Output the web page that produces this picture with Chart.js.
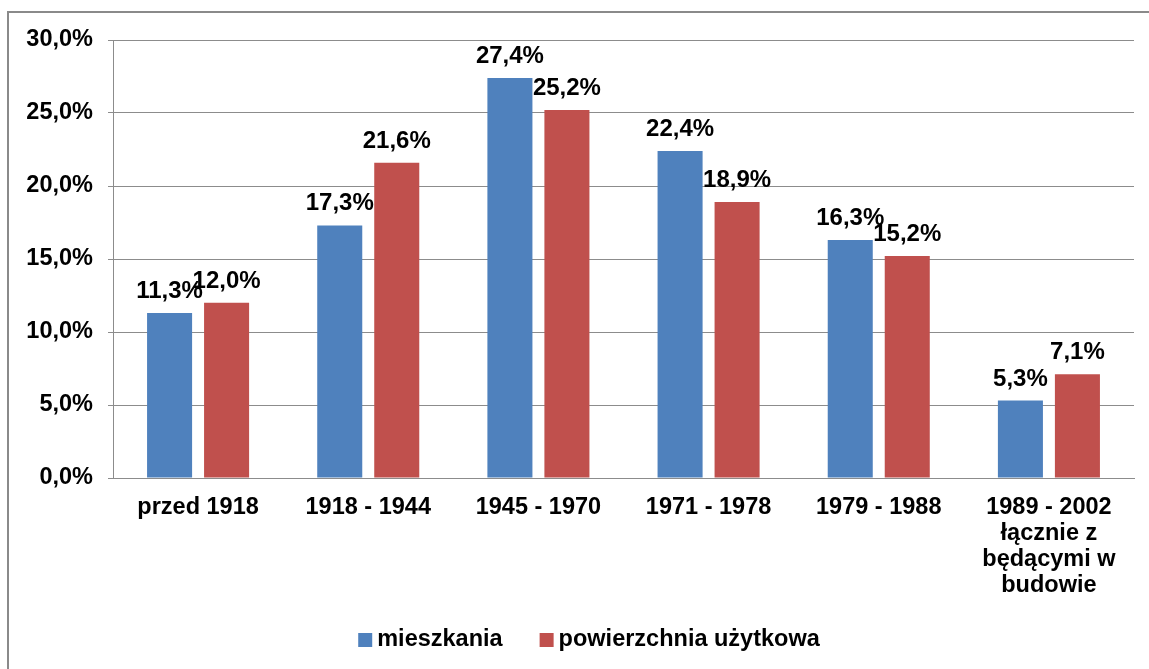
<!DOCTYPE html>
<html>
<head>
<meta charset="utf-8">
<script src="https://cdn.jsdelivr.net/npm/chart.js@4/dist/chart.umd.min.js"></script>
<style>
  html, body { margin: 0; padding: 0; background: #fff; overflow: hidden; }
  canvas { display: block; }
</style>
</head>
<body>
<canvas id="okresy" width="1149" height="669"></canvas>
<script>
'use strict';

var categories = ['przed 1918', '1918 - 1944', '1945 - 1970', '1971 - 1978', '1979 - 1988',
  ['1989 - 2002', 'łącznie z', 'będącymi w', 'budowie']];
var mieszkania = [11.3, 17.3, 27.4, 22.4, 16.3, 5.3];
var powierzchnia = [12.0, 21.6, 25.2, 18.9, 15.2, 7.1];
var yTicks = [0, 5, 10, 15, 20, 25, 30];

var FONT = "'Liberation Sans', Arial, sans-serif";
var GRID = '#8c8c8c';

function pct(v) {
  return v.toFixed(1).replace('.', ',') + '%';
}

// ramka wykresu (lewa i górna krawędź)
var frame = {
  id: 'frame',
  beforeDraw: function (chart) {
    var c = chart.ctx;
    c.save();
    c.fillStyle = '#fff';
    c.fillRect(0, 0, chart.width, chart.height);
    c.strokeStyle = '#8a8a8a';
    c.lineWidth = 2;
    c.beginPath();
    c.moveTo(8, chart.height);
    c.lineTo(8, 12);
    c.lineTo(chart.width, 12);
    c.stroke();
    c.restore();
  }
};

// etykiety wartości nad słupkami
var valueLabels = {
  id: 'valueLabels',
  afterDatasetsDraw: function (chart) {
    var c = chart.ctx;
    c.save();
    c.font = 'bold 24px ' + FONT;
    c.fillStyle = '#000';
    c.textAlign = 'center';
    c.textBaseline = 'alphabetic';
    chart.data.datasets.forEach(function (ds, i) {
      chart.getDatasetMeta(i).data.forEach(function (bar, j) {
        c.fillText(pct(ds.data[j]), bar.x, bar.y - 15);
      });
    });
    c.restore();
  }
};

// legenda na dole (jak w Excelu: mały kwadrat, wąski odstęp)
var bottomLegend = {
  id: 'bottomLegend',
  afterDraw: function (chart) {
    var c = chart.ctx;
    var ds = chart.data.datasets;
    var box = 14, gap = 5, between = 37, cy = 640, cx = 589;
    c.save();
    c.font = 'bold 23.5px ' + FONT;
    var total = 0;
    ds.forEach(function (d, i) {
      total += box + gap + c.measureText(d.label).width + (i ? between : 0);
    });
    var x = cx - total / 2;
    c.textAlign = 'left';
    c.textBaseline = 'middle';
    ds.forEach(function (d) {
      c.fillStyle = d.backgroundColor;
      c.fillRect(x, cy - box / 2, box, box);
      x += box + gap;
      c.fillStyle = '#000';
      c.fillText(d.label, x, cy);
      x += c.measureText(d.label).width + between;
    });
    c.restore();
  }
};

var ctx = document.getElementById('okresy');
new Chart(ctx, {
  type: 'bar',
  data: {
    labels: categories,
    datasets: [{
      label: 'mieszkania',
      data: mieszkania,
      backgroundColor: '#4F81BD',
      borderWidth: 0
    }, {
      label: 'powierzchnia użytkowa',
      data: powierzchnia,
      backgroundColor: '#C0504D',
      borderWidth: 0
    }]
  },
  options: {
    responsive: false,
    animation: false,
    categoryPercentage: 0.67,
    barPercentage: 0.79,
    layout: {
      padding: { left: 0, top: 40, right: 15, bottom: 51 }
    },
    plugins: {
      tooltip: { enabled: false },
      legend: { display: false }
    },
    scales: {
      x: {
        grid: { display: false, drawTicks: false },
        border: { display: true, color: GRID, width: 1 },
        ticks: {
          color: '#000',
          padding: 16,
          maxRotation: 0,
          autoSkip: false,
          font: { family: FONT, size: 23.5, weight: 'bold', lineHeight: 1.11 }
        },
        afterFit: function (scale) { scale.height = 140; }
      },
      y: {
        min: 0,
        max: 30,
        afterBuildTicks: function (scale) {
          scale.ticks = yTicks.map(function (v) { return { value: v }; });
        },
        grid: { color: GRID, lineWidth: 1, tickLength: 5 },
        border: { display: true, color: GRID, width: 1 },
        ticks: {
          color: '#000',
          padding: 15,
          font: { family: FONT, size: 23.5, weight: 'bold' },
          callback: function (v) { return pct(v); }
        },
        afterFit: function (scale) { scale.width = 113; }
      }
    }
  },
  plugins: [frame, valueLabels, bottomLegend]
});
</script>
</body>
</html>
